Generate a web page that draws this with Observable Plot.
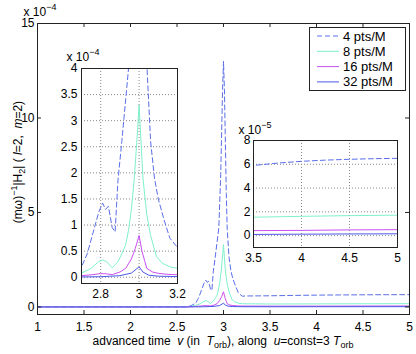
<!DOCTYPE html>
<html><head><meta charset="utf-8">
<script src="https://cdn.jsdelivr.net/npm/d3@7"></script>
<script src="https://cdn.jsdelivr.net/npm/@observablehq/plot@0.6"></script>
<style>
body{margin:0;background:#fff}
#fig{position:relative;width:416px;height:354px}
#fig svg{position:absolute;left:0;top:0}
</style>
</head><body><div id="fig"></div>
<script>
// ---- data (v in T_orb, |H2| in units of 1e-4) ----
const seriesNames = ["4 pts/M", "8 pts/M", "16 pts/M", "32 pts/M"];
const seriesColors = ["#5a6ee8", "#7ff0cc", "#c850f0", "#4a58e6"];

const v4x = [1, 2.5, 2.6, 2.65, 2.7, 2.73, 2.76, 2.79, 2.81, 2.825, 2.84, 2.86, 2.875, 2.89, 2.91, 2.93, 2.95, 2.97, 2.99, 3.0, 3.01, 3.03, 3.04, 3.06, 3.08, 3.1, 3.13, 3.16, 3.2, 3.25, 3.5, 3.75, 4, 4.25, 4.5, 4.75, 5];
const v4y = [0, 0, 0.01, 0.06, 0.2, 0.45, 0.85, 1.25, 1.42, 1.3, 1.36, 0.95, 0.87, 1.86, 2.6, 3.4, 4.2, 7.0, 11.5, 13.0, 11.5, 6.0, 4.1, 2.6, 1.9, 1.5, 1.1, 0.75, 0.57, 0.58, 0.59, 0.61, 0.625, 0.635, 0.642, 0.647, 0.65];

const v8x = [1, 2.5, 2.6, 2.65, 2.7, 2.75, 2.79, 2.81, 2.83, 2.86, 2.89, 2.91, 2.93, 2.945, 2.96, 2.975, 2.99, 3.0, 3.01, 3.02, 3.04, 3.06, 3.09, 3.12, 3.16, 3.2, 3.5, 4, 4.5, 5];
const v8y = [0, 0, 0.01, 0.03, 0.08, 0.17, 0.3, 0.33, 0.3, 0.18, 0.3, 0.45, 0.62, 0.9, 1.3, 1.9, 2.7, 3.3, 2.6, 1.9, 1.2, 0.8, 0.4, 0.27, 0.2, 0.17, 0.155, 0.162, 0.168, 0.172];

const v16x = [1, 2.6, 2.7, 2.76, 2.8, 2.83, 2.86, 2.9, 2.93, 2.96, 2.98, 3.0, 3.015, 3.03, 3.04, 3.07, 3.1, 3.15, 3.2, 3.5, 4, 4.5, 5];
const v16y = [0, 0, 0.03, 0.05, 0.07, 0.065, 0.05, 0.1, 0.17, 0.35, 0.55, 0.8, 0.5, 0.3, 0.17, 0.1, 0.075, 0.055, 0.047, 0.042, 0.044, 0.048, 0.05];

const v32x = [1, 2.6, 2.7, 2.8, 2.9, 2.96, 3.0, 3.02, 3.05, 3.1, 3.2, 3.5, 4, 4.5, 5];
const v32y = [0, 0, 0.005, 0.01, 0.03, 0.08, 0.2, 0.1, 0.04, 0.02, 0.012, 0.01, 0.012, 0.014, 0.015];

const mainXTicks = [1, 1.5, 2, 2.5, 3, 3.5, 4, 4.5, 5];
const mainYTicks = [0, 5, 10, 15];
const leftXTicks = [2.8, 3, 3.2];
const leftYTicks = [0, 0.5, 1, 1.5, 2, 2.5, 3, 3.5, 4];
const rightXTicks = [3.5, 4, 4.5, 5];
const rightYTicks = [0, 2, 4, 6, 8];   // units of 1e-5

// ---- build table ----
const allX = [v4x, v8x, v16x, v32x], allY = [v4y, v8y, v16y, v32y];
const rows = [];
seriesNames.forEach((s, i) => allX[i].forEach((x, j) => rows.push({series: s, v: x, h: allY[i][j]})));

const FONT = '"Liberation Sans", Arial, Helvetica, sans-serif';
const fmt = d => String(+(+d).toFixed(2));
const FRAME = "#222";

function lines(data, yKey) {
  return seriesNames.map((s, i) => Plot.line(data.filter(r => r.series === s), {
    x: "v", y: yKey, stroke: seriesColors[i], strokeWidth: 1,
    strokeDasharray: i === 0 ? "5,3" : null, clip: true
  }));
}
function gridStyle() { return {stroke: "#888", strokeOpacity: 1, strokeDasharray: "1,2", strokeWidth: 1}; }

// ---- main plot ----
const main = Plot.plot({
  width: 416, height: 354, marginLeft: 37, marginRight: 7, marginTop: 23, marginBottom: 40,
  x: {domain: [1, 5]}, y: {domain: [-0.4, 15]},
  style: {fontFamily: FONT, fontSize: "12px", background: "white", color: "black"},
  marks: [
    ...lines(rows, "h"),
    Plot.frame({stroke: FRAME}),
    Plot.ruleX(mainXTicks, {x: d => d, y1: -0.4, y2: -0.19, stroke: FRAME}),
    Plot.ruleX(mainXTicks, {x: d => d, y1: 15, y2: 14.79, stroke: FRAME}),
    Plot.ruleY(mainYTicks, {y: d => d, x1: 1, x2: 1.043, stroke: FRAME}),
    Plot.ruleY(mainYTicks, {y: d => d, x1: 5, x2: 4.957, stroke: FRAME}),
    Plot.axisX({ticks: mainXTicks, tickSize: 0, tickPadding: 8, tickFormat: fmt, label: null}),
    Plot.axisY({ticks: mainYTicks, tickSize: 0, tickPadding: 3, tickFormat: fmt, label: null})
  ]
});

// ---- left inset ----
const rowsL = rows.filter(r => r.v >= 2.6 && r.v <= 3.3);
const insetL = Plot.plot({
  width: 416, height: 354, marginLeft: 81, marginRight: 239, marginTop: 68, marginBottom: 71,
  x: {domain: [2.7, 3.2]}, y: {domain: [-0.12, 4]},
  style: {fontFamily: FONT, fontSize: "12px", background: "transparent", color: "black"},
  marks: [
    Plot.frame({fill: "white"}),
    Plot.gridX({ticks: [2.8, 3], ...gridStyle()}),
    Plot.gridY({ticks: leftYTicks.slice(0, -1), ...gridStyle()}),
    ...lines(rowsL, "h"),
    Plot.frame({stroke: FRAME}),
    Plot.axisX({ticks: leftXTicks, tickSize: 0, tickPadding: 6, tickFormat: fmt, label: null}),
    Plot.axisY({ticks: leftYTicks, tickSize: 0, tickPadding: 4, tickFormat: fmt, label: null})
  ]
});

// ---- right inset (units 1e-5) ----
const rowsR = rows.filter(r => r.v >= 3.2).map(r => ({...r, h5: r.h * 10}));
const insetR = Plot.plot({
  width: 416, height: 354, marginLeft: 253, marginRight: 19, marginTop: 140, marginBottom: 107,
  x: {domain: [3.5, 5]}, y: {domain: [-1, 8]},
  style: {fontFamily: FONT, fontSize: "12px", background: "transparent", color: "black"},
  marks: [
    Plot.frame({fill: "white"}),
    Plot.gridX({ticks: [4, 4.5], ...gridStyle()}),
    Plot.gridY({ticks: [0, 2, 4, 6], ...gridStyle()}),
    ...lines(rowsR, "h5"),
    Plot.frame({stroke: FRAME}),
    Plot.axisX({ticks: rightXTicks, tickSize: 0, tickPadding: 6, tickFormat: fmt, label: null}),
    Plot.axisY({ticks: rightYTicks, tickSize: 0, tickPadding: 3, tickFormat: fmt, label: null})
  ]
});

const fig = document.getElementById("fig");
fig.append(main, insetL, insetR);

// ---- text overlays ----
function multiplier(svg, x, y, exp) {
  const t = d3.select(svg).append("text").attr("x", x).attr("y", y)
    .attr("font-family", FONT).attr("font-size", 12).attr("fill", "black");
  t.append("tspan").text("x 10");
  t.append("tspan").attr("dy", -6).attr("font-size", 9).text(exp);
}
multiplier(main, 40, 16, "\u22124");
multiplier(insetL, 83, 61, "\u22124");
multiplier(insetR, 255, 134, "\u22125");

// x label
{
  const t = d3.select(main).append("text").attr("x", 223).attr("y", 345)
    .attr("text-anchor", "middle").attr("font-family", FONT).attr("font-size", 12).attr("fill", "black");
  t.append("tspan").text("advanced time  ");
  t.append("tspan").attr("font-style", "italic").text("v");
  t.append("tspan").text(" (in  ");
  t.append("tspan").attr("font-style", "italic").text("T");
  t.append("tspan").attr("dy", 3).attr("font-size", 9).text("orb");
  t.append("tspan").attr("dy", -3).text("), along  ");
  t.append("tspan").attr("font-style", "italic").text("u");
  t.append("tspan").text("=const=3 ");
  t.append("tspan").attr("font-style", "italic").text("T");
  t.append("tspan").attr("dy", 3).attr("font-size", 9).text("orb");
}
// y label
{
  const t = d3.select(main).append("text").attr("transform", "translate(22,162) rotate(-90)")
    .attr("text-anchor", "middle").attr("font-family", FONT).attr("font-size", 12).attr("fill", "black");
  t.append("tspan").text("(m\u03c9)");
  t.append("tspan").attr("dy", -5).attr("font-size", 9).text("\u22121");
  t.append("tspan").attr("dy", 5).text("|H");
  t.append("tspan").attr("dy", 3).attr("font-size", 9).text("2");
  t.append("tspan").attr("dy", -3).text("| ( ");
  t.append("tspan").attr("font-style", "italic").text("l");
  t.append("tspan").text("=2,  ");
  t.append("tspan").attr("font-style", "italic").text("m");
  t.append("tspan").text("=2)");
}

// ---- legend ----
const leg = d3.create("svg").attr("width", 416).attr("height", 354).style("pointer-events", "none");
leg.append("rect").attr("x", 309.5).attr("y", 27.5).attr("width", 96).attr("height", 63)
  .attr("fill", "white").attr("stroke", FRAME);
seriesNames.forEach((s, i) => {
  const y = 36 + i * 15.3;
  leg.append("line").attr("x1", 317).attr("x2", 339).attr("y1", y).attr("y2", y)
    .attr("stroke", seriesColors[i]).attr("stroke-width", 1)
    .attr("stroke-dasharray", i === 0 ? "5,3" : null);
  leg.append("text").attr("x", 343).attr("y", y + 4.5).attr("font-family", FONT)
    .attr("font-size", 13).attr("fill", "black").text(s);
});
fig.append(leg.node());
</script>
</body></html>
